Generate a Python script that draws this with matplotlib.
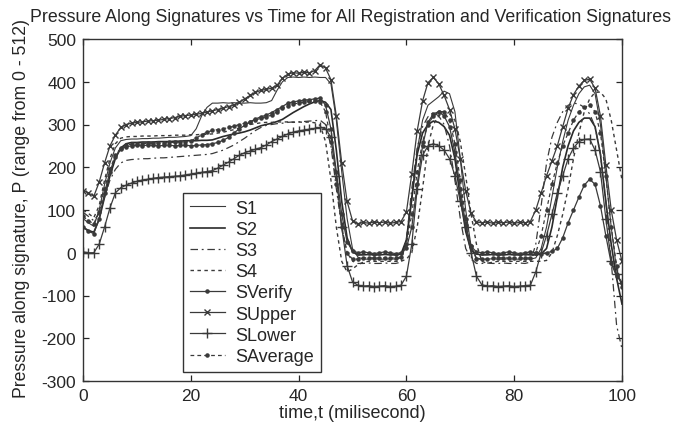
import matplotlib
matplotlib.use("Agg")
import matplotlib.pyplot as plt
import numpy as np

plt.rcParams['font.family'] = ['Liberation Sans', 'DejaVu Sans']

t = list(range(0, 101))

S1 = [80, 70, 62, 100, 160, 210, 245, 262, 265, 266,
      266, 267, 267, 268, 268, 269, 270, 270, 271, 272,
      274, 290, 320, 340, 350, 350, 351, 350, 351, 350,
      350, 351, 350, 350, 351, 356, 380, 400, 410, 411,
      410, 411, 410, 411, 410, 410, 395, 310, 190, 80,
      10, -10, -15, -15, -14, -15, -15, -14, -15, -12,
      30, 120, 240, 310, 345, 355, 365, 378, 372, 330,
      220, 100, 15, -12, -15, -15, -14, -15, -15, -14,
      -15, -15, -14, -15, -12, 10, 60, 130, 200, 260,
      310, 345, 372, 388, 392, 372, 300, 180, 60, -40,
      -80]

S2 = [60, 52, 48, 78, 130, 180, 220, 245, 255, 258,
      258, 259, 259, 259, 260, 260, 260, 261, 261, 262,
      262, 262, 263, 263, 264, 268, 272, 275, 278, 280,
      283, 287, 292, 297, 300, 303, 307, 312, 320, 328,
      335, 342, 348, 353, 356, 352, 335, 240, 120, 35,
      2, -5, -5, -4, -5, -5, -4, -5, -5, -3,
      30, 130, 230, 280, 300, 308, 305, 295, 275, 220,
      130, 50, 5, -3, -5, -5, -4, -5, -5, -4,
      -5, -5, -4, -5, -5, -3, 10, 60, 130, 200,
      250, 285, 305, 315, 315, 295, 230, 120, 20, -60,
      -120]

S3 = [95, 85, 75, 92, 130, 170, 195, 210, 216, 218,
      219, 220, 220, 221, 222, 222, 223, 224, 225, 226,
      227, 228, 229, 230, 232, 236, 240, 246, 252, 260,
      268, 277, 286, 293, 298, 300, 302, 303, 305, 306,
      306, 307, 308, 309, 310, 300, 250, 150, 60, 0,
      -20, -25, -25, -24, -25, -25, -24, -25, -25, -22,
      30, 150, 245, 295, 318, 328, 320, 300, 250, 170,
      80, 10, -15, -25, -25, -24, -25, -25, -24, -25,
      -25, -24, -25, -22, 20, 110, 210, 270, 305, 330,
      345, 350, 348, 340, 325, 295, 230, 120, -20, -170,
      -225]

S4 = [100, 92, 82, 110, 170, 220, 255, 268, 271, 272,
      272, 273, 273, 273, 274, 274, 274, 275, 275, 275,
      276, 276, 277, 277, 278, 280, 282, 285, 288, 292,
      296, 300, 302, 304, 305, 305, 306, 306, 306, 305,
      306, 305, 306, 304, 298, 260, 170, 60, -20, -45,
      -38, -28, -22, -20, -20, -20, -20, -20, -20, -20,
      -15, 0, 60, 150, 250, 300, 320, 330, 325, 310,
      260, 180, 90, 20, -20, -25, -22, -20, -20, -20,
      -20, -20, -20, -20, -20, -20, -18, 0, 40, 90,
      150, 220, 280, 330, 360, 375, 376, 360, 310, 240,
      170]

SVerify = [60, 50, 45, 80, 140, 190, 225, 243, 248, 250,
           251, 250, 252, 251, 250, 251, 252, 250, 251, 252,
           250, 251, 252, 253, 255, 258, 263, 270, 280, 290,
           298, 306, 313, 318, 322, 328, 335, 342, 350, 353,
           355, 357, 358, 360, 362, 345, 290, 190, 90, 25,
           5, 0, 2, 0, -2, 0, 2, 0, -2, 0,
           10, 60, 160, 250, 305, 325, 330, 320, 295, 235,
           150, 65, 15, 2, 0, 2, 0, -2, 0, 2,
           0, -2, 0, 2, 0, -2, 0, 3, 10, 35,
           70, 100, 130, 158, 172, 160, 110, 40, -25, -55,
           -70]

SUpper = [145, 140, 132, 165, 210, 250, 275, 293, 300, 303,
          305, 306, 308, 309, 310, 312, 314, 316, 319, 321,
          322, 324, 326, 329, 332, 335, 338, 342, 346, 352,
          360, 368, 375, 380, 382, 385, 392, 408, 418, 421,
          420, 422, 421, 426, 440, 432, 405, 320, 210, 120,
          75, 68, 71, 69, 72, 70, 72, 69, 71, 73,
          95, 185, 285, 355, 398, 410, 395, 368, 335, 290,
          220, 145, 92, 72, 70, 72, 69, 71, 70, 72,
          69, 71, 70, 73, 100, 140, 180, 215, 250, 295,
          338, 370, 390, 403, 406, 385, 320, 205, 100, 30,
          -20]

SLower = [2, 0, 0, 20, 60, 105, 140, 152, 158, 163,
          167, 170, 172, 174, 176, 177, 178, 179, 180, 182,
          184, 186, 188, 190, 192, 198, 205, 212, 220, 228,
          234, 238, 242, 246, 252, 260, 266, 272, 278, 282,
          285, 287, 289, 291, 293, 290, 270, 180, 60, -30,
          -68, -76, -78, -77, -79, -78, -77, -79, -78, -76,
          -55, 20, 150, 228, 250, 255, 250, 240, 220, 180,
          120, 60, 0, -55, -75, -78, -77, -79, -78, -77,
          -79, -78, -77, -76, -45, 0, 40, 90, 140, 180,
          220, 245, 260, 265, 266, 240, 190, 80, -20, -50,
          -70]

SAverage = [85, 75, 68, 95, 150, 195, 228, 245, 252, 254,
            255, 255, 256, 256, 257, 257, 258, 258, 259, 260,
            262, 268, 276, 282, 286, 288, 290, 293, 296, 300,
            303, 306, 310, 315, 318, 322, 330, 338, 344, 348,
            350, 352, 354, 355, 352, 330, 260, 160, 60, 0,
            -15, -15, -12, -12, -12, -12, -12, -12, -12, -10,
            20, 90, 190, 260, 300, 320, 330, 330, 310, 255,
            170, 80, 15, -15, -15, -15, -12, -12, -12, -12,
            -12, -12, -12, -12, 0, 40, 100, 160, 210, 250,
            280, 310, 330, 340, 345, 330, 280, 180, 60, -30,
            -80]

x_ticks = [0, 20, 40, 60, 80, 100]
y_ticks = [-300, -200, -100, 0, 100, 200, 300, 400, 500]

col = '#3a3a3a'
tcol = '#262626'

fig = plt.figure(figsize=(6.75, 4.31), dpi=100)
ax = fig.add_axes([83/675, 1-382/431, (622-83)/675, (382-40)/431])

ax.plot(t, S1, '-', color=col, lw=0.8, label='S1')
ax.plot(t, S2, '-', color='#2a2a2a', lw=1.2, label='S2')
ax.plot(t, S3, '-.', color=col, lw=0.9, dashes=(6, 3, 1.5, 3), label='S3')
ax.plot(t, S4, ':', color=col, lw=1.0, dashes=(2.5, 2.5), label='S4')
ax.plot(t, SVerify, '-', color=col, lw=0.9, marker='.', ms=4.5, label='SVerify')
ax.plot(t, SUpper, '-', color=col, lw=0.9, marker='x', ms=4, mew=1.0, label='SUpper')
ax.plot(t, SLower, '-', color=col, lw=0.9, marker='+', ms=7, mew=1.0, label='SLower')
ax.plot(t, SAverage, '--', color=col, lw=0.9, marker='.', ms=4.5, dashes=(3, 2.5), label='SAverage')

ax.set_xlim(0, 100)
ax.set_ylim(-300, 500)
ax.set_xticks(x_ticks)
ax.set_yticks(y_ticks)
ax.set_xticklabels([str(v) for v in x_ticks])
ax.set_yticklabels([str(v) for v in y_ticks])
ax.tick_params(direction='in', length=4, width=0.9, top=True, right=True,
               labelsize=12.5, colors=tcol, pad=5)
for s in ax.spines.values():
    s.set_color('#333333')
    s.set_linewidth(1.0)

ax.set_xlabel('time,t (milisecond)', fontsize=13, color=tcol, labelpad=1)
fig.text(22/675, 1-209/431, 'Pressure along signature, P (range from 0 - 512)',
         rotation=90, ha='center', va='center', fontsize=12.7, color=tcol)
fig.text(351/675, 1-17/431,
         'Pressure Along Signatures vs Time for All Registration and Verification Signatures',
         ha='center', va='center', fontsize=12.8, color=tcol)

leg = ax.legend(loc='lower left', bbox_to_anchor=(0.1855, 0.026), borderaxespad=0,
                fancybox=False, framealpha=1, edgecolor='#333333', fontsize=13,
                handlelength=1.9, handletextpad=0.6, labelspacing=0.23,
                borderpad=0.4, numpoints=1)
leg.get_frame().set_linewidth(1.0)
for txt in leg.get_texts():
    txt.set_color(tcol)

fig.savefig('out.png', dpi=100)
